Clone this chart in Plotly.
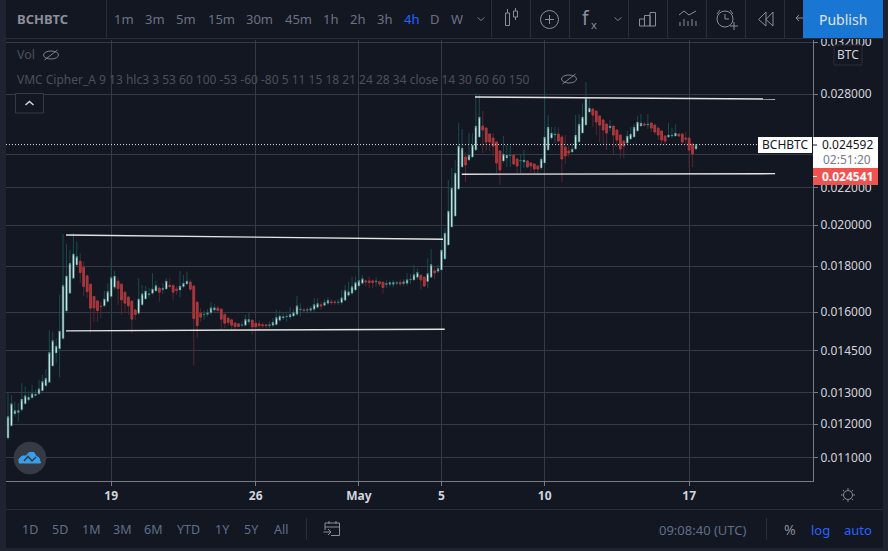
import pandas as pd
import plotly.graph_objects as go

W, H = 888, 551

# 4h candles, prices in millionths of BTC
opens = [11575, 11947, 12321, 12361, 12448, 12641, 12771, 12837, 12912, 12970,
         13070, 13239, 13364, 13932, 14399, 14556, 14945, 16046, 16792, 17451,
         18057, 18229, 17951, 17555, 17185, 16647, 16463, 16240, 16254, 16434,
         16647, 17052, 17317, 17185, 16835, 16621, 16450, 16087, 15952, 16296,
         16548, 16720, 16792, 16891, 17008, 16947, 16977, 17135, 17135, 16964,
         16934, 17079, 17198, 17274, 17102, 16409, 15952, 15884, 15913, 15966,
         16087, 16158, 16115, 15896, 15749, 15680, 15549, 15520, 15470, 15470,
         15600, 15668, 15549, 15520, 15481, 15481, 15449, 15470, 15497, 15668,
         15760, 15800, 15800, 15840, 15913, 16087, 16087, 16075, 16075, 16115,
         16200, 16296, 16283, 16367, 16420, 16420, 16392, 16392, 16492, 16707,
         16792, 16934, 17102, 17229, 17330, 17330, 17330, 17287, 17287, 17274,
         17170, 17185, 17185, 17229, 17257, 17214, 17229, 17374, 17374, 17496,
         17586, 17496, 17300, 17496, 17781, 17768, 17826, 18336, 19008, 19906,
         20468, 21942, 23217, 23820, 23638, 23820, 24252, 25074, 25789, 25660,
         25267, 25009, 24755, 24190, 23577, 23759, 23910, 23940, 23698, 23577,
         23517, 23577, 23455, 23396, 23276, 23156, 23455, 24252, 25009, 25202,
         25267, 25074, 24440, 24190, 24127, 24315, 24755, 25333, 25856, 26736,
         26942, 26805, 26460, 26192, 25920, 25660, 25789, 25529, 25202, 24818,
         24690, 24945, 25074, 25464, 25789, 25920, 25856, 25993, 25856, 25660,
         25464, 25137, 25074, 25137, 25137, 25267, 25267, 25009, 25009, 24628, 24315]
highs = [12994, 12935, 12716, 12665, 13329, 13214, 13046, 13273, 13103, 13443,
         13615, 13817, 15283, 15217, 14960, 16718, 19552, 19057, 18764, 19585,
         19169, 18607, 18210, 17600, 17198, 16677, 16505, 16434, 16904, 17229,
         18257, 17794, 17496, 17229, 16861, 16677, 16477, 16115, 17451, 17145,
         17102, 17008, 17676, 17330, 17079, 17229, 17451, 17451, 17145, 17102,
         17781, 17600, 17751, 17405, 17122, 16434, 16158, 16059, 16115, 16409,
         16338, 16254, 16158, 15952, 15790, 15731, 15612, 15520, 15612, 15884,
         15993, 15680, 15573, 15680, 15573, 15520, 15612, 15749, 16087, 16059,
         15993, 16019, 16200, 16115, 16677, 16367, 16171, 16200, 16254, 16578,
         16578, 16434, 16535, 16621, 16535, 16505, 16535, 16934, 17145, 17300,
         17525, 17525, 17976, 17600, 17405, 17525, 17405, 17496, 17343, 17287,
         17343, 17343, 17375, 17330, 17405, 17405, 17676, 17630, 18057, 17902,
         17600, 17525, 18368, 18798, 17976, 18057, 19852, 19852, 22455, 23156,
         23638, 25993, 25590, 24130, 25333, 25333, 28073, 28000, 26805, 25660,
         25267, 25333, 24755, 24252, 25137, 24565, 24500, 24005, 23759, 24005,
         24252, 23638, 23517, 23396, 23336, 23820, 28217, 26528, 25724, 25724,
         25724, 25202, 25202, 24565, 24690, 26528, 26600, 27336, 28872, 27714,
         27010, 26805, 26528, 26260, 25993, 26192, 25789, 25529, 25202, 24882,
         25464, 25724, 25920, 26460, 26600, 26060, 26600, 25993, 25856, 25660,
         25464, 25202, 25993, 25660, 25920, 25333, 25333, 25398, 25009, 24628, 24628]
lows = [11525, 11926, 12236, 12079, 12395, 12609, 12716, 12826, 12880, 12935,
        13046, 13214, 13329, 13910, 14030, 13536, 14896, 15952, 16764, 17405,
        18012, 17229, 16677, 16578, 15155, 15612, 15612, 15749, 16200, 16367,
        16578, 16934, 16296, 15884, 15952, 15884, 15155, 15680, 15884, 16254,
        16505, 16578, 16720, 16861, 16434, 16764, 16934, 17008, 16505, 16720,
        16621, 17008, 17145, 16904, 13945, 14960, 15612, 15680, 15813, 15884,
        15952, 16019, 15283, 15350, 15441, 15283, 15283, 15389, 15389, 15414,
        15489, 15090, 15283, 15283, 15350, 15350, 15350, 15389, 15441, 15600,
        15680, 15612, 15708, 15790, 15840, 15813, 15952, 15925, 15980, 16019,
        16140, 16087, 16225, 16283, 16296, 16296, 16296, 16296, 16450, 16647,
        16720, 16861, 17008, 17145, 17079, 17008, 17008, 17079, 17079, 16792,
        17008, 17079, 17050, 17145, 17102, 17102, 17102, 17200, 17343, 17374,
        16934, 17079, 17008, 17451, 17405, 17676, 17736, 18289, 18960, 19855,
        20415, 21887, 23156, 22340, 23577, 23759, 24190, 25009, 24065, 24190,
        24190, 23880, 22860, 22170, 23455, 23217, 23217, 23336, 22860, 22860,
        23156, 23156, 22920, 22860, 22860, 23039, 23336, 24190, 24882, 24690,
        24755, 22340, 23396, 23820, 24065, 24252, 24690, 25267, 25789, 26668,
        25724, 25202, 24755, 24565, 24252, 25464, 24005, 24440, 23759, 23759,
        24628, 24882, 25009, 25398, 25724, 25789, 25595, 25398, 25202, 24882,
        24565, 24565, 25009, 25009, 25074, 25074, 24565, 24565, 23156, 23217, 24252]
closes = [12236, 12641, 12426, 12426, 12794, 12902, 12859, 12970, 12960, 13137,
          13385, 13500, 14418, 14869, 14667, 15243, 17122, 17555, 18133, 18575,
          18445, 17704, 17079, 16861, 16158, 16171, 16059, 16225, 16548, 16861,
          17478, 17555, 16991, 16505, 16367, 16254, 15708, 15896, 16548, 16764,
          16891, 16764, 16977, 17122, 16835, 17008, 17330, 17079, 16835, 16921,
          17102, 17229, 17330, 16964, 15731, 15449, 15790, 15913, 15966, 16171,
          16171, 16059, 15708, 15549, 15573, 15470, 15414, 15414, 15494, 15692,
          15692, 15402, 15402, 15449, 15449, 15449, 15481, 15588, 15771, 15840,
          15813, 15826, 15896, 15980, 16254, 16115, 16059, 16100, 16140, 16310,
          16350, 16254, 16392, 16492, 16392, 16392, 16420, 16592, 16904, 16849,
          17079, 17257, 17343, 17431, 17287, 17257, 17257, 17330, 17198, 17038,
          17211, 17257, 17257, 17257, 17198, 17287, 17387, 17405, 17614, 17704,
          17374, 17102, 17660, 18071, 17691, 17886, 18764, 19600, 20739, 21998,
          22860, 24500, 24375, 23336, 23940, 24565, 25789, 26395, 25529, 24755,
          24755, 24500, 23455, 23039, 24005, 23940, 23940, 23396, 23276, 23610,
          23638, 23217, 23276, 23097, 23097, 23698, 25074, 25724, 25333, 25267,
          24818, 23698, 23880, 24065, 24315, 25202, 25920, 26395, 27714, 27010,
          26528, 26060, 25856, 25529, 25333, 25789, 25202, 24882, 24315, 24500,
          25137, 25267, 25724, 26060, 25993, 25856, 25920, 25660, 25398, 25202,
          24882, 24818, 25202, 25202, 25333, 25137, 24755, 24945, 24252, 24005, 24592]

# drawn trend lines (start, end) as date and price
trend_dates = [
    ["2021-04-16 19:30", "2021-05-05 01:48"],
    ["2021-04-16 19:30", "2021-05-05 03:48"],
    ["2021-05-06 15:00", "2021-05-21 04:00"],
    ["2021-05-05 23:36", "2021-05-21 04:00"],
]
trend_prices = [
    [0.01950, 0.019286],
    [0.015244, 0.01531],
    [0.027785, 0.027644],
    [0.022788, 0.022823],
]

price_ticks = [0.032, 0.028, 0.024, 0.022, 0.020, 0.018, 0.016, 0.0145, 0.013, 0.012, 0.011]
price_labels = ["0.032000", "0.028000", "", "0.022000", "0.020000", "0.018000",
                "0.016000", "0.014500", "0.013000", "0.012000", "0.011000"]
date_ticks = ["2021-04-19", "2021-04-26", "2021-05-01", "2021-05-05", "2021-05-10", "2021-05-17"]
date_labels = ["19", "26", "May", "5", "10", "17"]
last_price = 0.024592

intervals = ["1m", "3m", "5m", "15m", "30m", "45m", "1h", "2h", "3h", "4h", "D", "W"]
interval_x = [124, 155, 186, 221, 259, 298, 330, 357, 384, 411, 435, 457]
ranges = ["1D", "5D", "1M", "3M", "6M", "YTD", "1Y", "5Y", "All"]
range_x = [30, 60, 91, 122, 153, 188, 222, 251, 281]

BG = "#131722"
GRID = "#363a45"
FONT = "Noto Sans"

df = pd.DataFrame({"open": opens, "high": highs, "low": lows, "close": closes}) * 1e-6
df["date"] = pd.date_range("2021-04-14", periods=len(df), freq="4h")
df["top"] = df[["open", "close"]].max(axis=1)
df["bottom"] = df[["open", "close"]].min(axis=1)

fig = go.Figure()

# wicks are dimmer than the bodies so they get their own trace
fig.add_trace(go.Candlestick(
    x=df["date"], open=df["open"], high=df["high"], low=df["low"], close=df["close"],
    increasing=dict(line=dict(color="#1b4a4d", width=1), fillcolor="#1b4a4d"),
    decreasing=dict(line=dict(color="#4f2832", width=1), fillcolor="#4f2832"),
    hoverinfo="skip",
))
fig.add_trace(go.Candlestick(
    x=df["date"], open=df["open"], high=df["top"], low=df["bottom"], close=df["close"],
    increasing=dict(line=dict(color="#1c5a5d", width=0.5), fillcolor="#f4fbfa"),
    decreasing=dict(line=dict(color="#a8383c", width=1), fillcolor="#a8383c"),
    hoverinfo="skip",
))

for d, p in zip(trend_dates, trend_prices):
    fig.add_trace(go.Scatter(x=d, y=p, mode="lines", hoverinfo="skip",
                             line=dict(color="#e4e4e4", width=1.4)))

fig.add_trace(go.Scatter(x=["2021-04-13 21:40", "2021-05-23 00:00"], y=[last_price, last_price],
                         mode="lines", hoverinfo="skip",
                         line=dict(color="#dfe3e8", width=1, dash="1px 2px")))


def fx(x):
    return x / W


def fy(y):
    return 1 - y / H


shapes = []
notes = []


def rect(x0, y0, x1, y1, fill=None, line=None):
    shapes.append(dict(type="rect", xref="paper", yref="paper", layer="above",
                       x0=fx(x0), y0=fy(y0), x1=fx(x1), y1=fy(y1),
                       fillcolor=fill or "rgba(0,0,0,0)",
                       line=dict(color=line or "rgba(0,0,0,0)", width=1)))


def poly(points, color="#8b8e98", width=1, fill=None, close=False):
    path = "M " + " L ".join(f"{fx(x):.5f} {fy(y):.5f}" for x, y in points)
    if close:
        path += " Z"
    shapes.append(dict(type="path", xref="paper", yref="paper", layer="above", path=path,
                       fillcolor=fill or "rgba(0,0,0,0)",
                       line=dict(color=color, width=width)))


def circle(cx, cy, rx, ry=None, color="#8b8e98", fill=None, width=1):
    ry = ry or rx
    shapes.append(dict(type="circle", xref="paper", yref="paper", layer="above",
                       x0=fx(cx - rx), y0=fy(cy + ry), x1=fx(cx + rx), y1=fy(cy - ry),
                       fillcolor=fill or "rgba(0,0,0,0)",
                       line=dict(color=color, width=width)))


def text(x, y, s, size=13, color="#787b86", anchor="center", bold=False):
    notes.append(dict(xref="paper", yref="paper", x=fx(x), y=fy(y), text=f"<b>{s}</b>" if bold else s,
                      showarrow=False, xanchor=anchor, yanchor="middle",
                      font=dict(family=FONT, size=size, color=color)))


def eye(cx, cy):
    circle(cx, cy, 7.5, 4, color="#7d808a")
    poly([(cx - 6.5, cy + 5), (cx + 6.5, cy - 5)], color="#7d808a")


# outer frame
rect(0, 0, 6, H, fill="#1f2330")
rect(883, 0, W, H, fill="#1f2330")
rect(0, 548, W, H, fill="#1f2330")

# top toolbar
rect(6, 0, 883, 38, fill=BG)
poly([(6, 38.5), (883, 38.5)], color="#2a2e39")
text(15, 19, "BCHBTC", size=13, color="#8a8e9a", anchor="left", bold=True)
for lab, x in zip(intervals, interval_x):
    text(x, 19, lab, size=13, color="#2962ff" if lab == "4h" else "#6b7282")
for x in [106.5, 491.5, 530.5, 569.5, 628.5, 667.5, 706.5, 745.5, 784.5]:
    poly([(x, 0), (x, 38)], color="#2a2e39")
for cx in [481, 618]:
    poly([(cx - 3.5, 17.5), (cx, 20.5), (cx + 3.5, 17.5)], color="#787b86")

# candle icon
rect(505.5, 13, 509.5, 25.5, line="#8b8e98")
rect(513.5, 11, 517.5, 17, line="#8b8e98")
poly([(507.5, 9), (507.5, 13)])
poly([(515.5, 8), (515.5, 11)])
poly([(515.5, 17), (515.5, 20)])
# add icon
circle(549.5, 19.5, 9)
poly([(545, 19.5), (554, 19.5)])
poly([(549.5, 15), (549.5, 24)])
# fx icon
text(586, 18, "f", size=19, color="#8b8e98")
text(594, 24, "x", size=11, color="#8b8e98")
# bars icon
rect(639.5, 19, 644.5, 26, line="#8b8e98")
rect(644.5, 15.5, 650, 26, line="#8b8e98")
rect(650, 12.5, 655.5, 26, line="#8b8e98")
# template icon
poly([(679, 15), (684, 11), (689, 15), (696, 11)])
for x, y0 in zip([680, 684, 688, 692, 696], [22, 19, 21, 19, 21]):
    poly([(x, y0), (x, 26)])
# alarm icon
circle(725, 19, 8)
poly([(725, 14), (725, 19), (729, 19)])
poly([(717, 14), (720, 10)])
poly([(733, 14), (730, 10)])
poly([(730, 26), (738, 26)])
poly([(734, 22), (734, 30)])
# rewind icon
poly([(766, 12), (758.5, 19.5), (766, 26), (766, 12)])
poly([(773, 12), (766, 19.5), (773, 26), (773, 12)])
poly([(796, 18), (803, 18)])
poly([(799, 15), (796, 18), (799, 21)])

rect(803, 0, 883, 38, fill="#1976d2")
text(843, 19.5, "Publish", size=14, color="#e0e3eb")

# pane legend
text(15, 55, "Vol", size=12.5, color="#4c505b", anchor="left")
eye(51, 55)
text(15, 79.5, "VMC Cipher_A 9 13 hlc3 3 53 60 100 -53 -60 -80 5 11 15 18 21 24 28 34 close 14 30 60 60 150",
     size=12, color="#4c505b", anchor="left")
eye(569, 79)
shapes.append(dict(type="rect", xref="paper", yref="paper", layer="above",
                   x0=fx(15.5), y0=fy(113), x1=fx(43.5), y1=fy(93.5),
                   fillcolor=BG, line=dict(color="#363a45", width=1)))
poly([(25.5, 105), (29.5, 101.5), (33.5, 105)], color="#d1d4dc", width=1.5)

# price scale labels
shapes.append(dict(type="rect", xref="paper", yref="paper", layer="above",
                   x0=fx(834), y0=fy(65), x1=fx(862), y1=fy(45),
                   fillcolor=BG, line=dict(color="#2a2e39", width=1)))
text(848, 55, "BTC", size=12, color="#d1d4dc")
rect(758, 137, 812, 153, fill="#ffffff")
text(785, 145, "BCHBTC", size=12, color="#131722")
rect(813, 137, 878, 168, fill="#ffffff")
poly([(813, 145), (817, 145)], color="#131722")
text(847, 145, "0.024592", size=12, color="#131722")
text(847, 159.5, "02:51:20", size=12, color="#787b86")
rect(813, 168, 878, 185, fill="#ef5350")
poly([(813, 176.5), (817, 176.5)], color="#ffffff")
text(847, 176.5, "0.024541", size=12, color="#ffffff", bold=True)

# logo
circle(30, 458, 16, color="#363a45", fill="#363a45")
poly([(19, 463), (19, 459), (22, 456), (26, 456), (29, 452.5), (34, 452.5), (36, 456),
      (39, 458), (40.5, 463)], color="#35a0ee", fill="#35a0ee", close=True)
poly([(24, 461), (28, 456.5), (32, 461), (36, 457)], color="#363a45", width=1.5)

# gear
circle(848, 495, 4.5, color="#8b8e98")
for dx, dy in [(0, -7), (0, 7), (-7, 0), (7, 0), (-5, -5), (5, 5), (-5, 5), (5, -5)]:
    poly([(848 + dx * 0.75, 495 + dy * 0.75), (848 + dx, 495 + dy)], color="#8b8e98")

# bottom toolbar
poly([(6, 509.5), (883, 509.5)], color="#2a2e39")
for lab, x in zip(ranges, range_x):
    text(x, 529.5, lab, size=12.5, color="#5f6f88")
poly([(306.5, 518), (306.5, 540)], color="#2a2e39")
poly([(325, 530), (325, 523), (339.5, 523), (339.5, 535.5), (331, 535.5)])
poly([(325, 527), (339.5, 527)])
poly([(329, 521), (329, 524)])
poly([(336, 521), (336, 524)])
poly([(323.5, 532), (331, 532)])
poly([(328, 529), (331, 532), (328, 535)])
text(702.5, 529.5, "09:08:40 (UTC)", size=13, color="#5f6f88")
poly([(766.5, 518), (766.5, 540)], color="#2a2e39")
text(790, 529.5, "%", size=14, color="#878a94")
text(820.5, 529.5, "log", size=13, color="#2962ff")
text(858, 529.5, "auto", size=13, color="#2962ff")

fig.update_layout(
    width=W, height=H, autosize=False,
    margin=dict(l=0, r=0, t=0, b=0, pad=0, autoexpand=False),
    paper_bgcolor=BG, plot_bgcolor=BG,
    showlegend=False, hovermode=False,
    font=dict(family=FONT, size=12, color="#d1d4dc"),
    shapes=shapes, annotations=notes,
    xaxis=dict(
        domain=[fx(6), fx(813)], type="date",
        range=["2021-04-13 21:40", "2021-05-23 00:00"],
        rangeslider=dict(visible=False),
        tickmode="array", tickvals=date_ticks, ticktext=date_labels,
        tickfont=dict(family=FONT, size=12, color="#d1d4dc", weight="bold"),
        showgrid=True, gridcolor=GRID, gridwidth=1, zeroline=False,
        ticks="outside", ticklen=4, tickcolor="#787b86",
        showline=True, linecolor="#787b86", linewidth=1,
    ),
    yaxis=dict(
        domain=[fy(481), fy(40)], type="log", side="right",
        range=[-1.9843, -1.4926],
        tickmode="array", tickvals=price_ticks, ticktext=price_labels,
        tickfont=dict(family=FONT, size=12, color="#d1d4dc"),
        showgrid=True, gridcolor=GRID, gridwidth=1, zeroline=False,
        ticks="outside", ticklen=4, tickcolor="#787b86",
        showline=True, linecolor="#787b86", linewidth=1,
    ),
)

fig.write_html("out.html", config={"displayModeBar": False},
               post_script="document.body.style.margin='0';document.documentElement.style.overflow='hidden';"
                           "var g=document.querySelector('.plotly-graph-div');"
                           "g.style.position='fixed';g.style.top='0';g.style.left='0';")
